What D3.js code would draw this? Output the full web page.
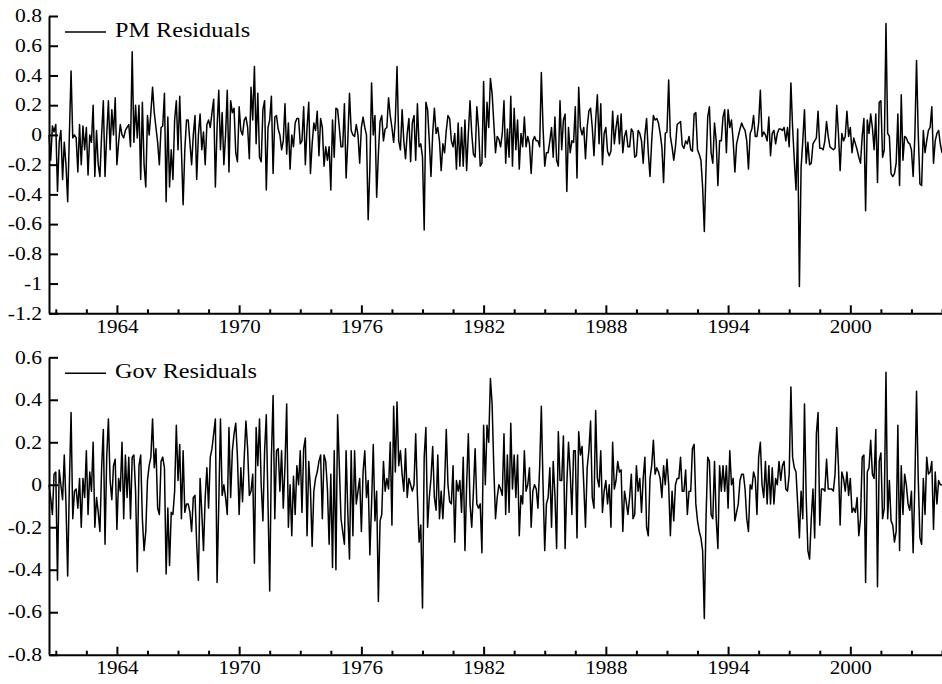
<!DOCTYPE html>
<html>
<head>
<meta charset="utf-8">
<script src="https://cdn.jsdelivr.net/npm/d3@7"></script>
<style>
  body { margin: 0; background: #fff; }
  text { font-family: "Liberation Serif", "Times New Roman", serif; fill: #000; }
</style>
</head>
<body>
<div id="chart"></div>
<script>
// monthly series, first point Sep 1960
const startYear = 1960 + 8 / 12;
const endYear = 2004.5;

const majorYears = [1964, 1970, 1976, 1982, 1988, 1994, 2000];
const minorYears = [1961, 1962.5, 1965.5, 1967, 1968.5, 1971.5, 1973, 1974.5, 1977.5, 1979, 1980.5,
  1983.5, 1985, 1986.5, 1989.5, 1991, 1992.5, 1995.5, 1997, 1998.5, 2001.5, 2003, 2004.5];

const pmTicks = [-1.2, -1, -0.8, -0.6, -0.4, -0.2, 0, 0.2, 0.4, 0.6, 0.8];
const govTicks = [-0.8, -0.6, -0.4, -0.2, 0, 0.2, 0.4, 0.6];

const pmResiduals = [
  0.0, -0.17, 0.06, 0.02, 0.07, -0.38, -0.05, 0.03, -0.3, -0.05, -0.2, -0.45,
  0.0, 0.43, -0.02, 0.0, -0.02, -0.25, 0.07, -0.2, 0.06, -0.1, 0.05, -0.27,
  0.0, -0.05, 0.2, -0.28, 0.03, -0.2, -0.28, 0.0, 0.23, -0.28, 0.0, 0.23,
  -0.1, 0.17, 0.0, 0.25, -0.2, -0.05, 0.07, 0.0, -0.02, 0.03, 0.05, 0.07,
  -0.08, 0.56, -0.05, 0.2, -0.02, 0.2, -0.3, 0.22, -0.2, -0.35, 0.13, 0.0,
  0.15, 0.32, 0.15, 0.05, -0.05, -0.2, 0.05, 0.06, 0.28, -0.45, 0.12, -0.35,
  -0.1, -0.3, 0.1, 0.23, -0.1, 0.26, -0.1, -0.47, -0.1, 0.1, 0.1, -0.05,
  -0.2, 0.0, 0.13, -0.3, 0.0, 0.14, -0.1, 0.02, -0.2, 0.07, 0.1, 0.05,
  0.15, 0.24, -0.35, 0.05, 0.3, -0.1, 0.15, -0.2, 0.0, 0.3, -0.25,
  0.23, 0.15, 0.18, -0.12, -0.18, 0.19, 0.03, 0.0, 0.1, 0.12, 0.05, -0.16,
  0.32, 0.1, 0.46, -0.06, 0.28, -0.15, -0.18, 0.17, 0.23, -0.37, 0.05, 0.1,
  0.26, -0.26, 0.12, 0.13, 0.04, 0.0, -0.1, -0.04, 0.21, -0.13, 0.08, -0.23,
  0.0, -0.08, 0.08, 0.11, 0.11, -0.06, -0.04, 0.19, -0.2, 0.05, 0.22, -0.26,
  -0.06, 0.08, 0.03, 0.16, -0.14, 0.11, 0.05, -0.21, -0.08, -0.17, -0.08, -0.37,
  0.1, -0.15, 0.18, 0.17, 0.05, -0.08, -0.08, 0.21, -0.29, -0.04, 0.28, 0.03,
  0.0, -0.01, 0.07, 0.0, -0.19, 0.05, 0.12, 0.05, 0.0, -0.57, -0.22, 0.35,
  0.0, 0.13, -0.42, -0.13, 0.09, 0.13, -0.04, 0.04, 0.05, 0.25, 0.13, 0.05,
  -0.05, 0.1, 0.46, -0.04,
  -0.1, 0.17, -0.04, -0.16, 0.01, 0.11, -0.18, 0.08, 0.13, -0.17, 0.21, -0.08,
  -0.06, -0.15, -0.64, 0.22, 0.17, -0.04, -0.28, 0.01, 0.18, 0.01, 0.05, -0.04,
  -0.24, -0.06, -0.12, 0.03, 0.13, 0.11, -0.04, -0.08, 0.01, -0.23, 0.08, -0.21,
  0.05, -0.21, 0.1, -0.24, 0.01, 0.23, 0.01, -0.13, -0.15, 0.19, 0.05, -0.21,
  -0.19, 0.36, -0.15, 0.22, 0.05, 0.38, 0.28, 0.08, -0.12, -0.01, -0.03, -0.08,
  0.01, 0.23, -0.19, 0.04, -0.15, 0.26, -0.21, 0.18, -0.1, 0.1, -0.23, 0.01,
  -0.08, 0.12, -0.08, -0.01, -0.06, -0.26, -0.04, -0.01, -0.04, -0.04, -0.08, 0.42,
  0.05, -0.21, -0.12, -0.12, -0.04, 0.05, -0.15, 0.12, -0.17, -0.21, 0.23, -0.1,
  0.1, 0.14, -0.38, 0.05,
  -0.12, -0.04, -0.05, 0.19, -0.29, 0.32, 0.05, 0.0, 0.05, -0.16, 0.05, 0.16,
  0.18, 0.05, -0.14, 0.1, 0.27, -0.06, 0.21, -0.2, 0.01, 0.05, -0.11, -0.14,
  -0.11, 0.16, -0.06, 0.05, 0.13, -0.06, 0.14, -0.12, -0.01, 0.03, -0.08, -0.08,
  0.04, 0.02, -0.15, -0.14, 0.03, 0.01, -0.04, -0.19, 0.0, 0.11, -0.12, -0.28,
  -0.04, 0.13, 0.1, 0.11, 0.08, 0.01, -0.08, -0.32, 0.01, 0.02, 0.37, -0.01,
  -0.08, -0.17, -0.08, 0.07, 0.08, 0.09, -0.07, -0.09, -0.04, -0.06, -0.01, -0.1,
  -0.11, 0.14, 0.15, -0.1, -0.13, -0.17, -0.35, -0.65, -0.22, 0.12, 0.19, -0.12,
  -0.19, 0.08, -0.04, -0.34, -0.04, -0.04, 0.12, 0.17, -0.12, 0.17, 0.05, 0.1,
  -0.04, -0.25, -0.06, -0.01, 0.04, 0.08, 0.05, 0.03, -0.04, -0.23,
  0.01, 0.04, 0.13, -0.01, -0.01, 0.08, 0.3, -0.01, 0.02, 0.0, -0.04, 0.12,
  -0.14, 0.01, 0.03, -0.06, 0.01, 0.04, 0.04, 0.03, 0.05, -0.04, 0.05, -0.08,
  0.35, 0.05, -0.17, -0.37, 0.04, -1.02, -0.22, -0.04, 0.17, -0.19, -0.05, -0.2,
  -0.19, -0.06, -0.04, -0.02, 0.16, -0.09, -0.09, -0.1, -0.04, 0.09, -0.01, -0.08,
  -0.09, -0.1, -0.09, 0.2, 0.01, -0.24, 0.01, -0.04, -0.01, 0.16, -0.01, 0.05,
  -0.12, -0.02, -0.06, -0.1, -0.15, -0.19, -0.01, 0.11, -0.51, 0.1, 0.01, 0.14,
  0.05, -0.1, 0.14, -0.32, 0.22, 0.23, -0.15, -0.1, 0.75, 0.01, -0.01, -0.26,
  -0.28, -0.26, -0.19, 0.14, -0.34, 0.27, -0.17, -0.01, -0.02, -0.05, -0.06, -0.1,
  -0.28, -0.01, 0.5, 0.01, -0.33, -0.34, 0.03, -0.12, -0.04, 0.03, 0.05, 0.19,
  -0.19, -0.04, 0.01, 0.03, -0.06, -0.12
];

const govResiduals = [
  0, -0.06, -0.14, 0.05, 0.06, -0.45, 0.07, 0, -0.07, 0.14,
  -0.09, -0.43, 0, 0.34, -0.16, -0.03, -0.02, -0.11, 0.03, -0.2,
  0.03, -0.06, 0.16, -0.14, 0.06, -0.03, 0.2, -0.2, -0.06, -0.13,
  -0.22, 0.08, 0.26, -0.28, 0.13, 0.31, 0.02, -0.07, 0.09, 0.12,
  -0.21, 0.03, -0.03, 0.2, -0.16, 0.14, -0.06, 0.13, -0.16, 0.13,
  0.14, -0.03, -0.41, 0.09, 0.14, -0.16, -0.31, -0.22, 0.02, 0.09,
  0.13, 0.31, 0.08, 0.17, -0.11, -0.14, 0.11, 0.13, 0.08, -0.42,
  -0.11, -0.38, -0.13, -0.14, -0.03, 0.28, 0.02, 0.19, -0.16, 0.16,
  -0.13, -0.09, -0.09, -0.13, -0.22, -0.06, -0.05, -0.28, -0.45, 0.03,
  -0.13, -0.31, -0.06, 0.08, -0.11, 0.13, 0.17, 0.24, 0.31, -0.46,
  -0.09, 0.31, -0.05, 0, -0.06, -0.14, 0.27,
  -0.06, 0.16, 0.24, 0.29, 0.13, -0.14, 0.08, -0.08, 0.13, 0.3,
  0.17, -0.05, -0.03, 0.05, -0.37, 0.27, 0.09, 0.31, 0, -0.17,
  0.16, 0.33, -0.09, -0.5, 0.13, 0.42, -0.16, 0.16, 0.17, -0.03,
  0.16, -0.11, 0.09, 0.38, -0.2, 0, -0.24, 0.04, -0.14, 0.09,
  0, 0.16, -0.13, 0.17, 0.22, -0.24, 0.11, -0.02, -0.29, -0.03,
  0.03, 0.06, 0.11, 0.14, -0.16, 0.14, 0.11, -0.02, -0.28, 0.05,
  -0.39, 0.16, -0.4, 0.33, 0.09, -0.16, -0.22, -0.28, 0.16, -0.13,
  -0.35, 0.16, -0.24, 0.16, -0.09, -0.03, 0.03, -0.22, 0.06, 0.16,
  -0.06, 0.02, -0.33, -0.09, 0.19, -0.17, -0.03, -0.55, -0.17, -0.14,
  0.11, -0.03, 0.03, -0.02, 0.2, -0.19, 0.37, 0.06, 0.39, 0.09,
  0.16, 0.05, -0.03, 0.17, -0.06, 0.03, 0, -0.03, 0, 0.24,
  -0.05, -0.27, -0.19, -0.58, 0.13, 0.27, -0.2, -0.06, 0.03, 0.18,
  -0.06, -0.12, 0.14, -0.16, -0.03, -0.16, 0, 0.26, 0, -0.08,
  -0.09, 0.09, -0.27, 0.02, -0.03, 0.02, -0.13, 0.13, -0.31, 0,
  0.24, -0.09, -0.2, -0.03, 0.17, -0.09, -0.11, -0.09, -0.32, 0.28,
  0, 0.28, 0.2, 0.5, 0.38, 0.08, -0.16, -0.06, 0, -0.02,
  -0.05, 0.24, -0.14, 0.14, -0.13, 0.29, -0.02, 0.14, -0.06, 0.14,
  -0.24, -0.05, -0.09, 0.16, -0.03, 0, 0.08, -0.2, -0.03, 0,
  -0.02, -0.11, 0.08, 0.37, 0, -0.31, -0.09, -0.06, 0.08, -0.2,
  0.11, -0.05, -0.3, 0.25, 0.02, 0.02, 0.23, -0.3, 0, 0.2,
  0.06, -0.14, 0.16, 0.16, -0.25, 0.25, 0.14, 0.18, 0, -0.2,
  0.08, 0.16, 0.3, -0.06, -0.11, 0.35, 0.03, -0.01, 0.16, -0.13,
  -0.03, 0.02, -0.09, 0, -0.2, 0.2, -0.02, 0.02, 0.11, 0.06,
  0.07, -0.22, -0.03, -0.08, -0.14, -0.06, 0.05, -0.16, -0.14, 0.09,
  -0.03, 0.03, -0.13, 0.03, 0.13, -0.2, -0.24, 0.03, 0.09, 0.21,
  0.05, 0.08, 0.06, 0.03, -0.06, 0.09, 0, 0.12, 0, -0.24,
  -0.03, -0.17, 0, 0.03, 0.03, 0.13, -0.03, -0.03, 0.07, -0.14,
  -0.03, -0.03, 0.17, 0.19, -0.09, -0.17, -0.22, -0.25, -0.31, -0.63,
  -0.16, 0.13, 0.11, -0.14, -0.16, 0.11, -0.16, -0.3, 0.09, -0.03,
  0.09, -0.03, 0.09, -0.11, 0.16, 0, 0.03, -0.17, -0.13, -0.09,
  0.02, 0.05, 0.05, -0.02, -0.16, -0.22, 0,
  -0.02, 0.06, 0.03, -0.14, 0.13, 0.2, 0, -0.06, 0.11, -0.09,
  0.09, -0.09, 0.08, -0.09, 0.03, 0, 0.11, 0.02, 0.09, 0.11,
  -0.02, -0.03, 0.05, 0.46, 0.13, 0.08, 0.06, -0.09, -0.25, -0.03,
  -0.16, 0.38, -0.06, -0.31, -0.35, -0.16, -0.02, -0.25, 0.24, 0.34,
  -0.19, -0.02, -0.02, -0.03, 0.12, -0.02, -0.02, -0.02, -0.03, 0.05,
  0.27, 0.09, -0.19, 0.06, 0.03, -0.03, 0.06, -0.05, 0.03, -0.13,
  -0.11, -0.13, -0.06, -0.24, -0.16, 0.13, 0.14, -0.46, 0.06, 0.08,
  0.21, 0.05, 0.03, 0.26, -0.48, 0.11, 0.15, -0.16, -0.11, 0.53,
  -0.16, 0.02, -0.17, -0.19, -0.27, -0.22, 0.28, -0.31, 0.09, -0.14,
  0.05, 0, -0.09, -0.12, -0.03, -0.32, 0, 0.44, 0.03, -0.25,
  -0.28, 0.03, -0.14, 0.13, 0.05, 0.06, 0.11, -0.21, 0.06, -0.09,
  0.02, 0, 0
];

let width = 942, height = 684;
let left = 49, right = 942;

let svg = d3.select("#chart").append("svg")
    .attr("width", width)
    .attr("height", height);

let x = d3.scaleLinear()
    .domain([startYear, endYear])
    .range([left, right]);

// stretch text horizontally like the original picture
function widen(sel, k) {
  sel.each(function () {
    let w = this.getComputedTextLength();
    d3.select(this).attr("textLength", w * k).attr("lengthAdjust", "spacingAndGlyphs");
  });
}

function drawPanel(values, ticks, label, top, bottom) {
  let y = d3.scaleLinear()
      .domain([d3.min(ticks), d3.max(ticks)])
      .range([bottom, top]);

  let line = d3.line()
      .x((d, i) => x(startYear + i / 12))
      .y(d => y(d));

  svg.append("path")
      .datum(values)
      .attr("d", line)
      .attr("fill", "none")
      .attr("stroke", "#000")
      .attr("stroke-width", 1.5)
      .attr("stroke-linejoin", "round");

  // minor year ticks
  let xMinor = svg.append("g")
      .attr("transform", "translate(0," + bottom + ")")
      .call(d3.axisBottom(x).tickValues(minorYears).tickSizeInner(-4).tickSizeOuter(0).tickFormat(""));
  xMinor.select(".domain").remove();

  let xAxis = svg.append("g")
      .attr("transform", "translate(0," + bottom + ")")
      .call(d3.axisBottom(x).tickValues(majorYears).tickSizeInner(-8).tickSizeOuter(0)
        .tickPadding(7).tickFormat(d3.format("d")));
  xAxis.selectAll("text").style("font-size", "18px");
  widen(xAxis.selectAll("text"), 1.17);

  let yAxis = svg.append("g")
      .attr("transform", "translate(" + left + ",0)")
      .call(d3.axisLeft(y).tickValues(ticks).tickSizeInner(-9).tickSizeOuter(0)
        .tickPadding(7).tickFormat(d => String(+d.toFixed(1))));
  yAxis.selectAll("text").style("font-size", "18px");
  widen(yAxis.selectAll("text"), 1.2);

  svg.selectAll(".domain, .tick line")
      .attr("stroke", "#000")
      .attr("stroke-width", 2);

  // legend
  svg.append("line")
      .attr("x1", 65).attr("x2", 106)
      .attr("y1", top + 16).attr("y2", top + 16)
      .attr("stroke", "#000")
      .attr("stroke-width", 1.5);
  let t = svg.append("text")
      .attr("x", 115)
      .attr("y", top + 21)
      .style("font-size", "20px")
      .text(label);
  widen(t, 1.21);
}

drawPanel(pmResiduals, pmTicks, "PM Residuals", 16, 313.3);
drawPanel(govResiduals, govTicks, "Gov Residuals", 357.3, 654.7);
</script>
</body>
</html>
